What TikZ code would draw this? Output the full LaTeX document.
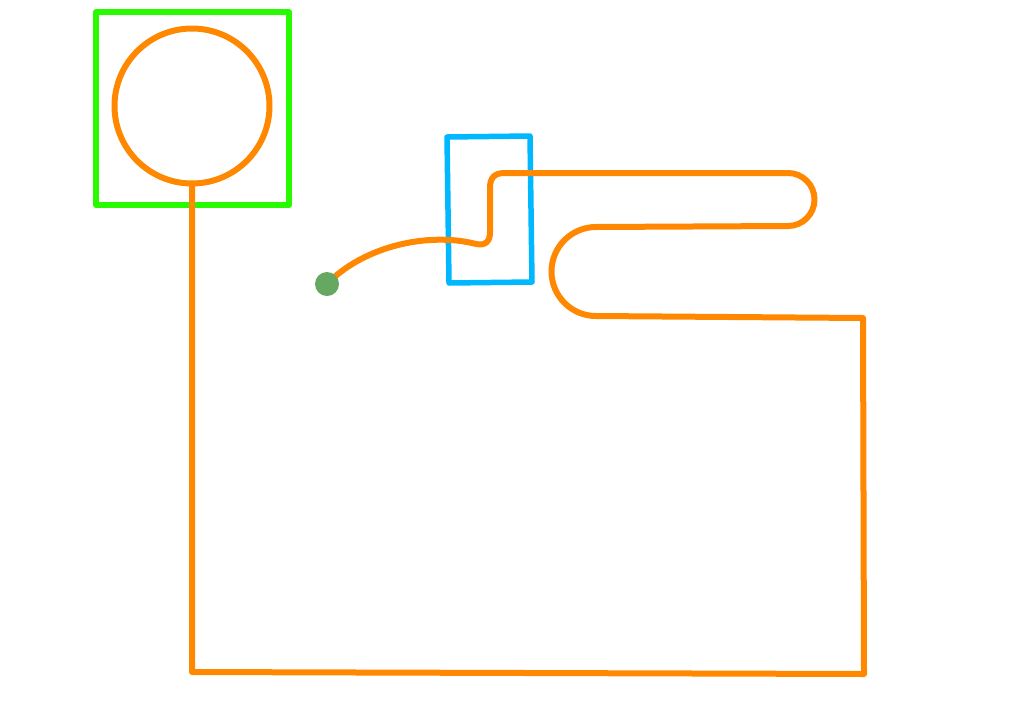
\documentclass[tikz,border=0pt]{standalone}
\definecolor{wireorange}{RGB}{255,136,0}
\definecolor{boxgreen}{RGB}{40,250,0}
\definecolor{boxblue}{RGB}{0,184,255}
\definecolor{dotgreen}{RGB}{102,168,98}
\tikzset{
  wire/.style={draw=wireorange,line width=6pt,line join=round,line cap=round},
  framebox/.style={line width=5.5pt,line join=round,line cap=round},
}
\begin{document}
\begin{tikzpicture}[x=1pt,y=-1pt]
\useasboundingbox[fill=white] (0,0) rectangle (1024,715);
% green square
\draw[framebox,draw=boxgreen] (96,12) rectangle (289,205);
% orange ring
\draw[wire] (192,106) circle[radius=77.5];
% blue box
\draw[framebox,draw=boxblue] (447,137) -- (530,136) -- (532,282) -- (449,283) -- cycle;
% long wire
\coordinate (ringbottom) at (192,184);
\coordinate (dot) at (327,284);
\draw[wire] (ringbottom) -- (192,672) -- (864,674) -- (863,318) -- (596,316)
  arc[start angle=90,end angle=270,radius=44.5] -- (788,226)
  arc[start angle=90,end angle=-90,radius=26.5] -- (505,173)
  .. controls (494,173) and (490,178) .. (490,188) -- (490,232)
  .. controls (490,241) and (486,246) .. (476,244)
  .. controls (430,232) and (365,245) .. (dot);
\fill[dotgreen] (dot) circle[radius=12];
\end{tikzpicture}
\end{document}
